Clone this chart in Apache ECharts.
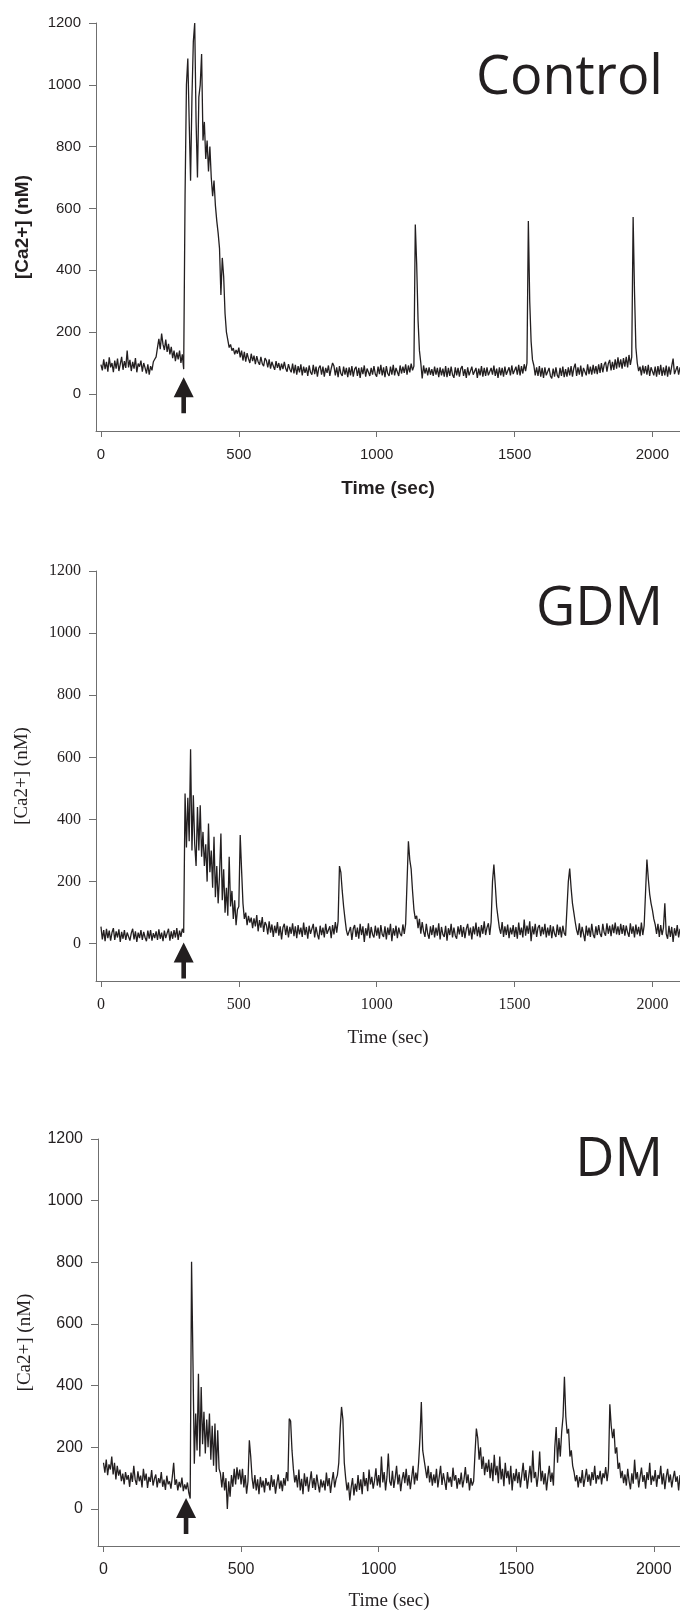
<!DOCTYPE html>
<html>
<head>
<meta charset="utf-8">
<script src="https://cdn.jsdelivr.net/npm/echarts@6/dist/echarts.min.js"></script>
<style>
  html, body { margin: 0; padding: 0; background: #fff; }
  #chart { width: 680px; height: 1612px; }
</style>
</head>
<body>
<div id="chart"></div>
<script>
// [Ca2+] traces, one sample every 5 s starting at t = 0
const sampleStep = 5;
const panelNames = ['Control', 'GDM', 'DM'];
const xTicks = [0, 500, 1000, 1500, 2000];
const yTicks = [0, 200, 400, 600, 800, 1000, 1200];

const controlValues = [
  95, 76, 112, 80, 104, 72, 118, 86, 100, 70, 108, 82, 114, 74, 96, 120, 78, 106, 84, 140,
  86, 110, 74, 104, 82, 116, 70, 98, 88, 108, 72, 100, 84, 66, 96, 62, 90, 76, 104, 112,
  120, 150, 178, 145, 195, 160, 142, 176, 136, 162, 128, 152, 116, 140, 106, 134, 112, 140, 100, 128,
  80, 640, 1000, 1085, 880, 690, 960, 1140, 1200, 880, 700, 960, 1000, 1100, 820, 880, 760, 820, 720, 800,
  700, 640, 690, 610, 560, 520, 470, 320, 440, 380, 260, 200, 175, 150, 160, 140, 148, 128, 142, 130,
  150, 118, 140, 108, 136, 104, 132, 114, 100, 130, 106, 124, 96, 122, 104, 94, 120, 98, 90, 116,
  108, 86, 112, 82, 104, 90, 78, 106, 84, 100, 76, 98, 80, 104, 82, 72, 96, 80, 70, 98,
  66, 94, 62, 90, 70, 96, 60, 88, 68, 86, 58, 92, 70, 62, 94, 64, 88, 56, 84, 92,
  62, 88, 56, 84, 68, 92, 58, 82, 100, 90, 60, 86, 54, 90, 66, 58, 88, 62, 84, 54,
  86, 60, 90, 56, 80, 88, 58, 84, 52, 86, 64, 92, 56, 82, 88, 58, 84, 62, 90, 64,
  56, 88, 64, 94, 60, 86, 54, 90, 66, 58, 88, 62, 94, 60, 84, 90, 58, 92, 66, 88,
  68, 96, 62, 92, 70, 98, 76, 90, 548, 420, 238, 140, 100, 50, 92, 66, 84, 60, 86, 62,
  80, 58, 88, 62, 84, 54, 86, 60, 82, 56, 90, 54, 84, 58, 88, 62, 52, 86, 60, 84,
  56, 82, 90, 58, 80, 52, 86, 60, 54, 88, 62, 58, 84, 52, 82, 60, 90, 56, 84, 58,
  86, 60, 54, 84, 62, 92, 58, 82, 52, 86, 60, 84, 56, 88, 62, 56, 86, 60, 92, 64,
  58, 88, 62, 94, 60, 90, 66, 96, 74, 100, 559, 300, 170, 110, 92, 60, 86, 58, 90, 56,
  84, 52, 86, 60, 54, 84, 58, 50, 82, 56, 86, 60, 52, 84, 58, 88, 54, 80, 56, 86,
  60, 90, 56, 84, 98, 58, 86, 62, 92, 56, 84, 90, 60, 96, 64, 88, 62, 94, 66, 90,
  64, 96, 68, 100, 70, 94, 104, 72, 98, 110, 76, 104, 78, 112, 82, 118, 86, 112, 82, 116,
  88, 120, 86, 126, 94, 120, 572, 330, 150, 100, 74, 88, 60, 92, 66, 90, 62, 94, 58, 86,
  92, 60, 88, 56, 90, 62, 94, 58, 86, 60, 92, 56, 88, 62, 90, 114, 64, 58, 90, 62, 86
];

const gdmValues = [
  55, 14, 44, 8, 48, 18, 42, 10, 36, 50, 12, 40, 20, 46, 6, 38, 16, 44, 12, 36,
  42, 10, 34, 48, 14, 40, 6, 36, 18, 44, 12, 38, 20, 8, 42, 16, 44, 10, 34, 18,
  40, 12, 46, 16, 36, 8, 42, 18, 34, 48, 10, 40, 16, 44, 20, 50, 12, 42, 22, 48,
  35, 484, 310, 470, 330, 626, 300, 478, 320, 250, 440, 300, 446, 280, 360, 250, 320, 200, 387, 230,
  300, 180, 344, 150, 250, 130, 220, 355, 140, 240, 100, 180, 90, 280, 120, 170, 80, 140, 60, 110,
  120, 350, 237, 130, 80, 100, 60, 90, 68, 84, 50, 82, 56, 92, 40, 76, 52, 86, 38, 70,
  60, 30, 72, 36, 62, 22, 58, 34, 70, 26, 56, 14, 52, 64, 28, 58, 20, 54, 32, 66,
  24, 56, 18, 60, 30, 52, 22, 68, 28, 54, 16, 58, 32, 26, 64, 20, 54, 30, 14, 58,
  28, 52, 20, 64, 32, 26, 56, 18, 60, 30, 70, 36, 72, 250, 230, 170, 120, 80, 44, 26,
  20, 54, 12, 48, 60, 22, 52, 16, 64, 28, 56, 6, 50, 26, 66, 18, 54, 30, 20, 58,
  26, 52, 16, 60, 30, 22, 56, 14, 52, 28, 64, 8, 50, 26, 58, 18, 52, 32, 24, 62,
  32, 64, 60, 330, 270, 240, 170, 110, 80, 90, 50, 80, 32, 70, 40, 22, 64, 32, 16, 56,
  28, 60, 20, 52, 26, 66, 14, 54, 30, 22, 58, 10, 50, 28, 64, 20, 52, 26, 16, 56,
  30, 60, 22, 54, 18, 48, 64, 26, 52, 14, 56, 30, 68, 24, 54, 20, 60, 32, 72, 28,
  52, 66, 28, 70, 200, 255, 190, 120, 84, 50, 32, 70, 22, 56, 28, 62, 18, 52, 30, 60,
  22, 54, 16, 68, 28, 52, 20, 78, 26, 58, 32, 72, 8, 56, 30, 64, 22, 52, 60, 24,
  54, 30, 64, 20, 52, 26, 60, 18, 56, 32, 22, 62, 28, 54, 20, 58, 34, 26, 30, 200,
  242, 180, 130, 100, 70, 44, 28, 66, 20, 54, 32, 8, 58, 26, 52, 22, 64, 30, 18, 56,
  28, 60, 32, 22, 64, 36, 26, 66, 32, 58, 24, 62, 34, 68, 30, 56, 28, 64, 32, 60,
  26, 58, 36, 22, 66, 32, 56, 20, 62, 30, 54, 24, 68, 28, 58, 64, 271, 210, 160, 130,
  108, 80, 62, 32, 64, 22, 60, 28, 52, 130, 32, 16, 58, 22, 54, 6, 50, 26, 60, 20, 48
];

const dmValues = [
  150, 118, 160, 110, 145, 128, 170, 112, 150, 96, 140, 108, 128, 90, 115, 80, 120, 95, 110, 72,
  118, 88, 140, 96, 78, 122, 90, 108, 70, 130, 92, 115, 68, 104, 88, 126, 76, 98, 112, 70,
  100, 84, 120, 72, 95, 62, 108, 80, 90, 66, 104, 150, 78, 96, 60, 88, 70, 102, 58, 80,
  64, 86, 52, 34, 802, 483, 147, 310, 190, 439, 170, 396, 210, 315, 180, 290, 200, 310, 160, 270,
  140, 277, 120, 255, 130, 115, 70, 120, 60, 100, 0, 90, 40, 110, 72, 130, 80, 135, 96, 128,
  80, 130, 70, 110, 50, 90, 223, 170, 100, 66, 110, 60, 96, 48, 104, 70, 92, 54, 100, 76,
  88, 60, 110, 72, 96, 50, 84, 112, 66, 92, 58, 100, 76, 120, 90, 293, 285, 190, 130, 86,
  110, 70, 128, 60, 98, 48, 116, 74, 104, 56, 90, 122, 68, 100, 62, 112, 80, 54, 96, 70,
  92, 60, 118, 74, 100, 52, 90, 120, 70, 96, 110, 150, 260, 331, 290, 150, 100, 60, 86, 28,
  70, 100, 44, 82, 56, 110, 62, 96, 48, 120, 74, 100, 58, 128, 80, 104, 66, 92, 132, 76,
  110, 70, 170, 86, 120, 60, 104, 180, 90, 76, 124, 68, 100, 140, 80, 112, 58, 96, 120, 84,
  130, 76, 110, 64, 102, 140, 80, 118, 92, 150, 230, 347, 190, 160, 130, 100, 140, 86, 120, 76,
  112, 84, 130, 70, 104, 140, 78, 116, 90, 62, 120, 86, 104, 72, 134, 92, 110, 66, 100, 80,
  118, 70, 96, 136, 84, 112, 60, 100, 76, 90, 180, 261, 230, 160, 200, 130, 170, 110, 150, 120,
  160, 100, 150, 90, 176, 110, 140, 84, 170, 96, 130, 74, 150, 100, 124, 80, 140, 60, 116, 90,
  130, 84, 120, 70, 110, 150, 92, 126, 66, 104, 140, 86, 190, 100, 120, 72, 110, 186, 90, 124,
  80, 116, 60, 104, 140, 88, 118, 76, 200, 266, 150, 230, 170, 250, 300, 429, 300, 245, 260, 170,
  190, 140, 120, 90, 110, 70, 104, 84, 126, 72, 100, 130, 88, 112, 76, 120, 94, 140, 82, 110,
  96, 124, 80, 116, 100, 136, 90, 130, 340, 270, 230, 260, 180, 200, 130, 150, 100, 124, 84, 112,
  76, 130, 90, 64, 116, 82, 160, 96, 120, 70, 104, 134, 88, 110, 66, 120, 94, 150, 78, 108,
  90, 126, 72, 110, 98, 140, 80, 116, 64, 104, 130, 86, 112, 70, 100, 124, 88, 106, 60, 110, 92
];

// arrow marking the stimulus (time, vertical centre in nM)
const stimulusTime = 300;
const arrowLevels = [-4, -54, -23];

const traces = [controlValues, gdmValues, dmValues];
const ink = '#231f20';
const axisGray = '#6f6f6f';
const sans = '"Liberation Sans", Arial, sans-serif';
const serif = '"Liberation Serif", "Times New Roman", serif';

// panel layout
const grids = [
  { left: 96, top: 23, width: 584, height: 408 },
  { left: 96, top: 571, width: 584, height: 410 },
  { left: 98, top: 1139, width: 582, height: 407 }
];
const xRanges = [[-18, 2100], [-18, 2100], [-20, 2095]];
const tickFont = [sans, serif, sans];
const tickSize = [15, 16, 16];
const nameFont = [sans, serif, serif];
const nameWeight = ['bold', 'normal', 'normal'];
const titleTop = [52, 583, 1134];

function toPairs(vals) {
  return vals.map((v, i) => [i * sampleStep, v]);
}

const arrowPath = 'path://M10,0 L20,20 L12.3,20 L12.3,36 L7.7,36 L7.7,20 L0,20 Z';

const chart = echarts.init(document.getElementById('chart'), null, { renderer: 'canvas' });

const option = {
  animation: false,
  backgroundColor: '#fff',
  grid: grids.map(g => Object.assign({ containLabel: false }, g)),
  xAxis: grids.map((g, i) => ({
    type: 'value',
    gridIndex: i,
    min: xRanges[i][0],
    max: xRanges[i][1],
    name: 'Time (sec)',
    nameLocation: 'middle',
    nameGap: i === 2 ? 46 : 48,
    nameTextStyle: { fontFamily: nameFont[i], fontSize: 19, fontWeight: nameWeight[i], color: ink },
    axisLine: { show: true, onZero: false, lineStyle: { color: axisGray, width: 1 } },
    axisTick: { show: true, length: 6, customValues: xTicks, lineStyle: { color: axisGray } },
    axisLabel: {
      customValues: xTicks, margin: 16, formatter: v => String(v),
      fontFamily: tickFont[i], fontSize: tickSize[i], color: ink
    },
    splitLine: { show: false }
  })),
  yAxis: grids.map((g, i) => ({
    type: 'value',
    gridIndex: i,
    min: -120,
    max: 1200,
    name: '[Ca2+] (nM)',
    nameLocation: 'middle',
    nameGap: i === 2 ? 63 : 64,
    nameTextStyle: { fontFamily: nameFont[i], fontSize: 19, fontWeight: nameWeight[i], color: ink },
    axisLine: { show: true, onZero: false, lineStyle: { color: axisGray, width: 1 } },
    axisTick: { show: true, length: 7, customValues: yTicks, lineStyle: { color: axisGray } },
    axisLabel: {
      customValues: yTicks, margin: 15, formatter: v => String(v),
      fontFamily: tickFont[i], fontSize: tickSize[i], color: ink
    },
    splitLine: { show: false }
  })),
  series: traces.map((vals, i) => ({
    type: 'line',
    xAxisIndex: i,
    yAxisIndex: i,
    data: toPairs(vals),
    showSymbol: false,
    symbol: 'none',
    lineStyle: { color: ink, width: 1.3 },
    itemStyle: { color: ink },
    markPoint: {
      silent: true,
      symbol: arrowPath,
      symbolSize: [20, 36],
      itemStyle: { color: ink },
      label: { show: false },
      data: [{ coord: [stimulusTime, arrowLevels[i]] }]
    }
  })),
  graphic: panelNames.map((name, i) => ({
    type: 'text',
    right: 17,
    top: titleTop[i],
    style: {
      text: name,
      font: '54px "Open Sans", "Noto Sans", sans-serif',
      fill: ink
    }
  }))
};

chart.setOption(option);
</script>
</body>
</html>
